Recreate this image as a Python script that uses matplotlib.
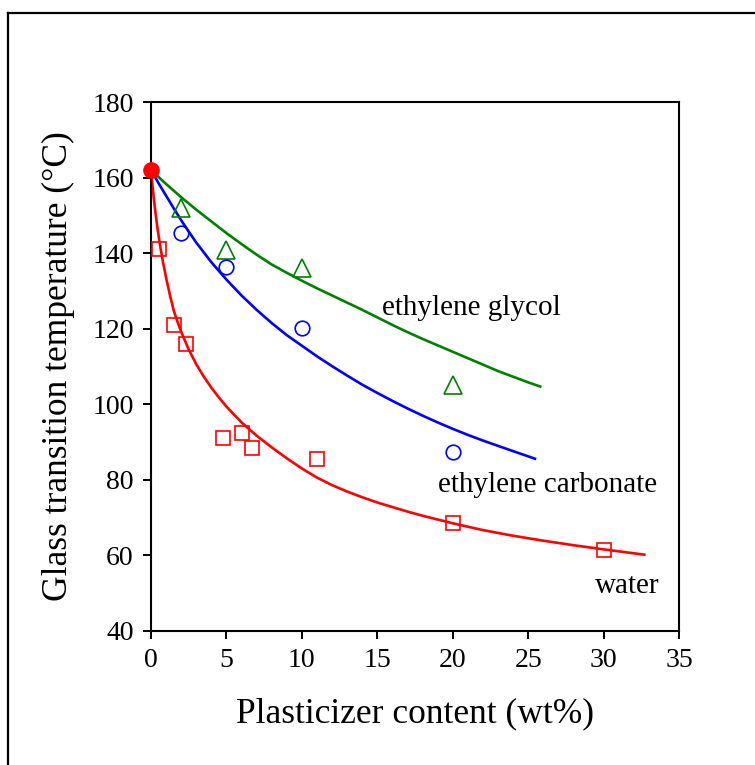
import matplotlib
matplotlib.use("Agg")
import matplotlib.pyplot as plt
from matplotlib.lines import Line2D

plt.rcParams["font.family"] = ["Liberation Serif", "DejaVu Serif"]

# --------------------------------------------------------------------------- #
# Data
# --------------------------------------------------------------------------- #
neat_x = [0]
neat_y = [162]

water_x = [0.5, 1.5, 2.3, 4.8, 6.0, 6.7, 11, 20, 30]
water_y = [141, 121, 116, 91, 92.5, 88.5, 85.5, 68.5, 61.5]

carbonate_x = [2, 5, 10, 20]
carbonate_y = [145.3, 136.3, 120.2, 87.4]

glycol_x = [2, 5, 10, 20]
glycol_y = [151.9, 140.8, 136, 105.1]

# fitted curves
water_fit_x = [0, 0.1, 0.2, 0.3, 0.4, 0.5, 0.6, 0.8, 1.0, 1.25, 1.5, 1.75, 2.0,
               2.5, 3.0, 3.5, 4.0, 4.5, 5, 6, 7, 8, 9, 10, 11, 12, 13, 14, 15,
               16, 17, 18, 19, 20, 22, 24, 26, 28, 30, 32.7]
water_fit_y = [162, 157.8, 154.0, 150.6, 147.5, 144.7, 142.1, 137.5, 133.5,
               129.0, 124.9, 121.9, 119.2, 114.5, 110.6, 107.3, 104.4, 101.8,
               99.4, 95.2, 91.7, 88.6, 85.7, 83.0, 80.6, 78.6, 76.9, 75.4, 74.0,
               72.8, 71.6, 70.5, 69.5, 68.5, 66.7, 65.2, 63.9, 62.7, 61.6, 60.2]

carbonate_fit_x = [0, 0.5, 1, 1.5, 2, 2.5, 3, 4, 5, 6, 7, 8, 9, 10, 11, 12, 13,
                   14, 15, 16, 17, 18, 19, 20, 21, 22, 23, 24, 25.45]
carbonate_fit_y = [162, 158.5, 155.2, 151.9, 148.7, 145.7, 142.8, 137.6, 133.0,
                   128.8, 125.0, 121.5, 118.3, 115.5, 112.7, 110.1, 107.6, 105.2,
                   103.0, 100.9, 98.9, 97.0, 95.2, 93.5, 91.9, 90.4, 89.0, 87.6,
                   85.6]

glycol_fit_x = [0, 1, 2, 3, 4, 5, 6, 7, 8, 9, 10, 11, 12, 13, 14, 15, 16, 17,
                18, 19, 20, 21, 22, 23, 24, 25, 25.8]
glycol_fit_y = [162, 158.3, 154.8, 151.5, 148.4, 145.3, 142.4, 139.6, 137.0,
                134.8, 132.7, 130.7, 128.8, 126.9, 125.0, 123.0, 121.0, 119.1,
                117.3, 115.6, 113.9, 112.2, 110.5, 108.8, 107.3, 105.8, 104.7]

x_ticks = [0, 5, 10, 15, 20, 25, 30, 35]
y_ticks = [40, 60, 80, 100, 120, 140, 160, 180]

RED = "#ff0000"
BLUE = "#0000ff"
GREEN = "#008000"

# --------------------------------------------------------------------------- #
# Figure
# --------------------------------------------------------------------------- #
W, H = 755, 765
fig = plt.figure(figsize=(W / 100, H / 100), dpi=100, facecolor="white")
ax = fig.add_axes([151 / W, 1 - 631 / H, 528 / W, 529 / H])

ax.plot(glycol_fit_x, glycol_fit_y, color=GREEN, lw=1.9, zorder=2)
ax.plot(carbonate_fit_x, carbonate_fit_y, color=BLUE, lw=1.9, zorder=2)
ax.plot(water_fit_x, water_fit_y, color=RED, lw=1.9, zorder=2)

ax.plot(glycol_x, glycol_y, ls="none", marker="^", ms=13, mfc="none",
        mec=GREEN, mew=1.2, zorder=3)
ax.plot(carbonate_x, carbonate_y, ls="none", marker="o", ms=10.5, mfc="none",
        mec=BLUE, mew=1.2, zorder=3)
ax.plot(water_x, water_y, ls="none", marker="s", ms=9.8, mfc="none",
        mec=RED, mew=1.2, zorder=3)
ax.plot(neat_x, neat_y, ls="none", marker="o", ms=11, mfc=RED, mec=RED,
        zorder=4, clip_on=False)

ax.text(15.28, 123.6, "ethylene glycol", fontsize=21, ha="left", va="baseline")
ax.text(19.04, 76.9, "ethylene carbonate", fontsize=21, ha="left", va="baseline")
ax.text(29.42, 50.0, "water", fontsize=21, ha="left", va="baseline")

ax.set_xlim(0, 35)
ax.set_ylim(40, 180)
ax.set_xticks(x_ticks)
ax.set_yticks(y_ticks)
ax.tick_params(direction="out", length=5.5, width=1.4, labelsize=20,
               top=False, right=False)
ax.tick_params(axis="x", pad=7)
ax.tick_params(axis="y", pad=7)
for sp in ax.spines.values():
    sp.set_linewidth(1.5)

ax.set_xlabel("Plasticizer content (wt%)", fontsize=25.5, labelpad=17)
ax.set_ylabel("Glass transition temperature (°C)", fontsize=25.5, labelpad=12)

# outer frame (only left and top edges fall inside the image)
fig.add_artist(Line2D([8 / W, 8 / W], [0, 1 - 13 / H], transform=fig.transFigure,
                      color="black", lw=1.6))
fig.add_artist(Line2D([8 / W, 1], [1 - 13 / H, 1 - 13 / H], transform=fig.transFigure,
                      color="black", lw=1.6))

fig.savefig("out.png", dpi=100, facecolor="white")
